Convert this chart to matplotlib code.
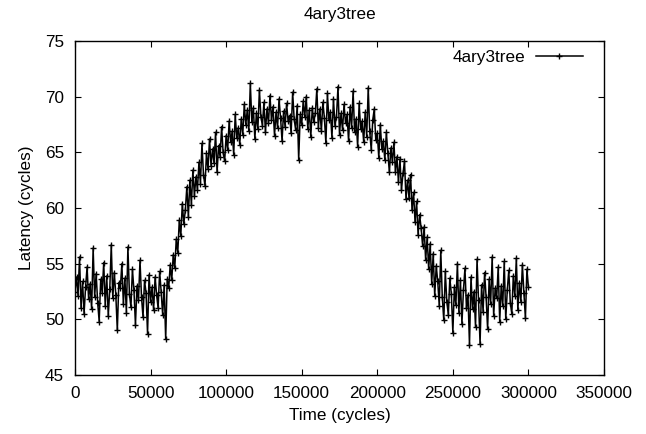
import matplotlib
matplotlib.use("Agg")
import matplotlib.pyplot as plt

plt.rcParams['font.family'] = ['Liberation Sans', 'DejaVu Sans']

step = 1000
latency = [
    52.5, 53.8, 52.1, 55.6, 51.0, 53.4, 50.5, 52.9, 54.7, 51.8,
    53.2, 50.9, 56.4, 52.0, 54.1, 51.5, 49.8, 53.6, 52.4, 55.1,
    51.2, 53.9, 50.3, 52.7, 56.7, 51.9, 54.2, 52.2, 49.0, 53.3,
    52.8, 55.0, 51.4, 53.7, 50.6, 56.5, 52.3, 51.1, 54.5, 52.6,
    49.5, 53.0, 51.7, 55.3, 52.0, 50.2, 53.5, 52.4, 48.7, 54.0,
    51.6, 52.9, 50.8, 53.8, 52.2, 51.0, 54.3, 52.5, 50.4, 53.1,
    48.2, 53.6, 52.8, 54.9, 53.5, 55.8, 54.6, 57.2, 56.0, 58.9,
    57.5, 60.4, 58.6, 59.8, 61.9, 59.2, 62.5, 60.3, 63.4, 61.1,
    62.8, 61.6, 64.1, 62.2, 65.8, 63.0, 62.0, 64.9, 63.5, 66.2,
    63.8, 65.3, 64.0, 66.8, 63.2, 65.6, 64.6, 67.3, 65.0, 64.2,
    66.5, 65.2, 67.8, 65.9, 66.9, 64.8, 68.4, 66.3, 67.2, 65.7,
    68.0, 66.6, 69.3, 67.5, 68.8, 66.9, 71.2, 67.7, 69.0, 66.2,
    68.5, 67.1, 70.6, 68.2, 67.4, 69.5, 66.8, 68.9, 67.6, 70.1,
    67.9, 69.1, 66.5, 68.6, 67.2, 69.8, 68.1, 66.0, 68.7, 67.3,
    69.4, 67.8, 68.3, 66.7, 70.4, 68.0, 67.0, 69.2, 64.3, 68.4,
    67.5, 69.6, 68.2, 70.0, 67.1, 68.8, 66.4, 69.0, 67.7, 68.5,
    70.7, 67.2, 68.9, 66.9, 69.5, 68.1, 65.8, 70.3, 67.9, 68.6,
    66.3, 69.8, 67.4, 68.2, 70.9, 66.6, 68.5, 67.0, 69.3, 67.6,
    68.4, 66.0, 69.1, 67.2, 70.5, 66.8, 68.0, 65.5, 69.4, 67.1,
    67.8, 65.9, 68.6, 66.4, 70.8, 66.9, 65.2, 67.9, 68.9, 66.1,
    66.7, 64.5, 67.5, 65.3, 66.0, 64.3, 66.8, 64.9, 63.2, 65.4,
    64.1, 65.9, 63.2, 64.6, 62.3, 64.4, 61.6, 63.1, 64.2, 60.8,
    62.5, 60.9, 63.0, 59.8, 61.4, 58.7, 60.6, 57.6, 59.4, 58.2,
    56.6, 58.3, 55.3, 57.4, 54.5, 56.8, 53.2, 55.9, 52.1, 54.8,
    53.4, 51.2, 56.2, 52.0, 49.9, 54.3, 51.6, 50.4, 53.7, 52.3,
    48.8, 52.9, 51.3, 55.0, 50.6, 53.5, 49.6, 52.6, 54.6, 51.0,
    52.2, 47.7, 53.8, 50.9, 52.5, 49.3, 55.4, 51.7, 47.8, 53.1,
    50.7, 54.2, 52.0, 49.1, 53.6, 51.4, 55.6, 50.3, 52.8, 51.9,
    54.7, 49.8, 53.0, 51.2, 55.2, 50.0, 52.6, 54.4, 51.5, 50.5,
    53.9, 52.1, 55.5, 50.8, 53.3, 51.6, 54.9, 52.4, 50.1, 54.5,
    52.9,
]
time = [i * step for i in range(len(latency))]

title = "4ary3tree"
series_label = "4ary3tree"
xticks = [0, 50000, 100000, 150000, 200000, 250000, 300000, 350000]
yticks = [45, 50, 55, 60, 65, 70, 75]

W, H = 646, 434
L, R, T, B = 75, 604, 41, 375
fs = 12.3

fig = plt.figure(figsize=(W / 100, H / 100), dpi=100)
ax = fig.add_axes([L / W, 1 - B / H, (R - L) / W, (B - T) / H])
ax.plot(time, latency, color='black', linewidth=1.1, marker='+',
        markersize=4.8, markeredgewidth=1.0, label=series_label)
ax.set_xlim(0, 350000)
ax.set_ylim(45, 75)
ax.set_xticks(xticks)
ax.set_yticks(yticks)
ax.tick_params(direction='in', top=True, right=True, labelsize=fs,
               length=4.5, width=0.8)
ax.tick_params(axis='x', pad=8)
ax.tick_params(axis='y', pad=8)
for s in ax.spines.values():
    s.set_linewidth(1.0)
ax.set_xlabel("Time (cycles)", fontsize=fs, labelpad=5)
ax.set_ylabel("Latency (cycles)", fontsize=fs, labelpad=8)
fig.text((L + R) / 2 / W, 1 - 14 / H, title, ha='center', va='center', fontsize=fs)
ax.legend(loc='upper right', frameon=False, markerfirst=False, fontsize=fs,
          handlelength=2.8, borderaxespad=0.4, handletextpad=0.6,
          bbox_to_anchor=(1 - 7 / (R - L), 1 + 5 / (B - T)))
fig.savefig("out.png", dpi=100)
